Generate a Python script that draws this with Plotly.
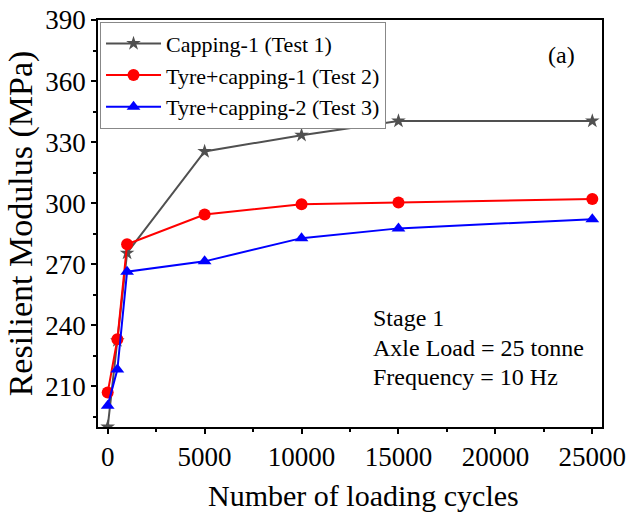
import plotly.graph_objects as go

# Loading cycles and resilient modulus (MPa) for each test
cycles = [0, 500, 1000, 5000, 10000, 15000, 25000]
capping_1 = [190.0, 232.5, 275.5, 325.4, 333.4, 340.4, 340.4]
tyre_capping_1 = [206.9, 233.1, 279.8, 294.4, 299.5, 300.3, 302.0]
tyre_capping_2 = [200.5, 218.2, 266.3, 271.4, 282.8, 287.6, 292.1]

series_names = ["Capping-1 (Test 1)", "Tyre+capping-1 (Test 2)", "Tyre+capping-2 (Test 3)"]
notes = ["Stage 1", "Axle Load = 25 tonne", "Frequency = 10 Hz"]

FONT = "Liberation Serif"

fig = go.Figure()
fig.add_trace(go.Scatter(
    x=cycles, y=capping_1, name=series_names[0], mode="lines+markers",
    line=dict(color="#505050", width=2),
    marker=dict(symbol="star", size=11, color="#505050"),
))
fig.add_trace(go.Scatter(
    x=cycles, y=tyre_capping_1, name=series_names[1], mode="lines+markers",
    line=dict(color="#ff0000", width=2),
    marker=dict(symbol="circle", size=12, color="#ff0000"),
))
fig.add_trace(go.Scatter(
    x=cycles, y=tyre_capping_2, name=series_names[2], mode="lines+markers",
    line=dict(color="#0000ff", width=2),
    marker=dict(symbol="triangle-up", size=12, color="#0000ff"),
))

# Test conditions text block
for txt, ypix in zip(notes, [318, 348, 377]):
    fig.add_annotation(
        xref="paper", yref="paper", x=0.542, y=(426.7 - ypix) / 406.7,
        xanchor="left", yanchor="middle", showarrow=False,
        text=txt, font=dict(family=FONT, size=24, color="black"),
    )

fig.add_annotation(
    xref="paper", yref="paper", x=0.92, y=0.915,
    xanchor="center", yanchor="middle", showarrow=False,
    text="(a)", font=dict(family=FONT, size=24, color="black"),
)

# x-axis title, placed as a centred caption below the tick labels
fig.add_annotation(
    xref="paper", yref="paper", x=0.526, y=-0.168,
    xanchor="center", yanchor="middle", showarrow=False,
    text="Number of loading cycles", font=dict(family=FONT, size=30, color="black"),
)

axis_common = dict(
    showgrid=False, zeroline=False, automargin=False,
    showline=True, linecolor="black", linewidth=1.5, mirror=True,
    ticks="outside", ticklen=5, tickwidth=1.5, tickcolor="black",
    tickfont=dict(family=FONT, size=27, color="black"),
    tickformat="d",
)

fig.update_xaxes(
    range=[-500, 25500], tickvals=[0, 5000, 10000, 15000, 20000, 25000],
    minor=dict(tickvals=[2500, 7500, 12500, 17500, 22500], ticklen=3,
               tickwidth=1.5, tickcolor="black", ticks="outside"),
    **axis_common,
)
fig.update_yaxes(
    range=[190, 390], tickvals=[210, 240, 270, 300, 330, 360, 390],
    minor=dict(tickvals=[195, 225, 255, 285, 315, 345, 375], ticklen=3,
               tickwidth=1.5, tickcolor="black", ticks="outside"),
    title=dict(text="Resilient Modulus (MPa)",
               font=dict(family=FONT, size=34, color="black"), standoff=2),
    **axis_common,
)

fig.update_layout(
    width=629, height=519,
    margin=dict(l=98, r=27, t=20, b=92),
    paper_bgcolor="white", plot_bgcolor="white",
    showlegend=True,
    legend=dict(
        x=0.004, y=0.996, xanchor="left", yanchor="top",
        bgcolor="white", bordercolor="#888888", borderwidth=1,
        font=dict(family=FONT, size=22, color="black"),
        itemwidth=55, tracegroupgap=0,
    ),
)

fig.write_html("out.html")
